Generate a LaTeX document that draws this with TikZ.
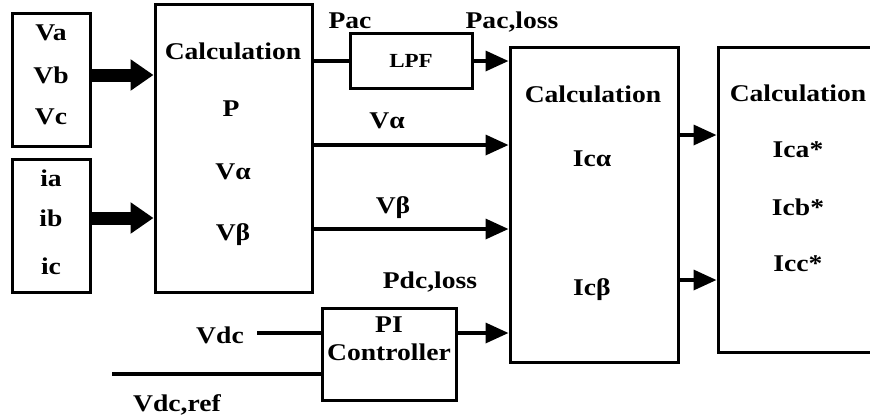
\documentclass[tikz,border=0pt]{standalone}
\usepackage{fontspec}
\setmainfont{Liberation Serif}[FakeStretch=1.15]
\usetikzlibrary{arrows.meta}

\begin{document}
\begin{tikzpicture}[x=1pt,y=-1pt,
  font=\fontsize{24}{28}\selectfont\bfseries,
  blk/.style={draw,line width=3pt,inner sep=0pt},
  lbl/.style={inner sep=0pt},
  arr/.style={-{Triangle[length=23pt,width=20pt]},line width=3.5pt},
  fat/.style={-{Triangle[length=23pt,width=30pt]},line width=13pt},
  wire/.style={line width=4.5pt}
]
\useasboundingbox[fill=white] (0,0) rectangle (870,416);

% blocks
\node[blk,minimum width=78pt,minimum height=133pt] (vin) at (51,79.5) {};
\node[blk,minimum width=78pt,minimum height=133pt] (iin) at (51,225.5) {};
\node[blk,minimum width=157pt,minimum height=288pt] (calc1) at (233.5,148) {};
\node[blk,minimum width=122pt,minimum height=55pt,font=\fontsize{20}{24}\selectfont\bfseries] (lpf) at (411,61) {LPF};
\node[blk,minimum width=168pt,minimum height=315pt] (calc2) at (594,204.5) {};
\node[blk,minimum width=160pt,minimum height=305pt] (calc3) at (798,199.5) {};
\node[blk,minimum width=134pt,minimum height=92pt] (pi) at (389,354) {};

% texts inside blocks
\foreach \t/\n/\y in {Va/va/33,Vb/vb/75,Vc/vc/117}
  \node[lbl] (\n) at (51,\y) {\t};
\foreach \t/\n/\y in {ia/ia/178,ib/ib/218,ic/ic/266}
  \node[lbl] (\n) at (51,\y) {\t};
\node[lbl] (c1head) at (233,51) {Calculation};
\node[lbl] (c1p) at (231,109) {P};
\node[lbl] (c1a) at (233,172) {Vα};
\node[lbl] (c1b) at (233,235) {Vβ};
\node[lbl] (c2head) at (593,94) {Calculation};
\node[lbl] (c2a) at (592,159) {Icα};
\node[lbl] (c2b) at (592,290) {Icβ};
\node[lbl] (c3head) at (798,93) {Calculation};
\node[lbl] (c3a) at (798,150) {Ica*};
\node[lbl] (c3b) at (798,207) {Icb*};
\node[lbl] (c3c) at (798,264) {Icc*};
\node[lbl,align=center] (pitxt) at (389,339) {PI\\Controller};

% signal labels
\node[lbl] (pac) at (350,21) {Pac};
\node[lbl] (pacloss) at (512,22) {Pac,loss};
\node[lbl] (lva) at (387,121) {Vα};
\node[lbl] (lvb) at (393,208) {Vβ};
\node[lbl] (pdcloss) at (430,282) {Pdc,loss};
\node[lbl] (vdc) at (220,335) {Vdc};
\node[lbl] (vdcref) at (177,405) {Vdc,ref};

% connectors
\coordinate (ya) at (0,145);
\coordinate (yb) at (0,229);
\coordinate (yo1) at (0,135);
\coordinate (yo2) at (0,280);
\coordinate (vdcin) at (257,333);
\coordinate (refin) at (112,374);

\draw[fat] (vin.east |- vb) -- (calc1.west |- vb);
\draw[fat] (iin.east |- ib) -- (calc1.west |- ib);
\draw[line width=3.5pt] (calc1.east |- lpf) -- (lpf.west);
\draw[arr] (lpf.east) -- (calc2.west |- lpf);
\draw[arr] (calc1.east |- ya) -- (calc2.west |- ya);
\draw[arr] (calc1.east |- yb) -- (calc2.west |- yb);
\draw[arr] (calc2.east |- yo1) -- (calc3.west |- yo1);
\draw[arr] (calc2.east |- yo2) -- (calc3.west |- yo2);
\draw[wire] (vdcin) -- (pi.west |- vdcin);
\draw[wire] (refin) -- (pi.west |- refin);
\draw[arr] (pi.east |- vdcin) -- (calc2.west |- vdcin);
\end{tikzpicture}
\end{document}
